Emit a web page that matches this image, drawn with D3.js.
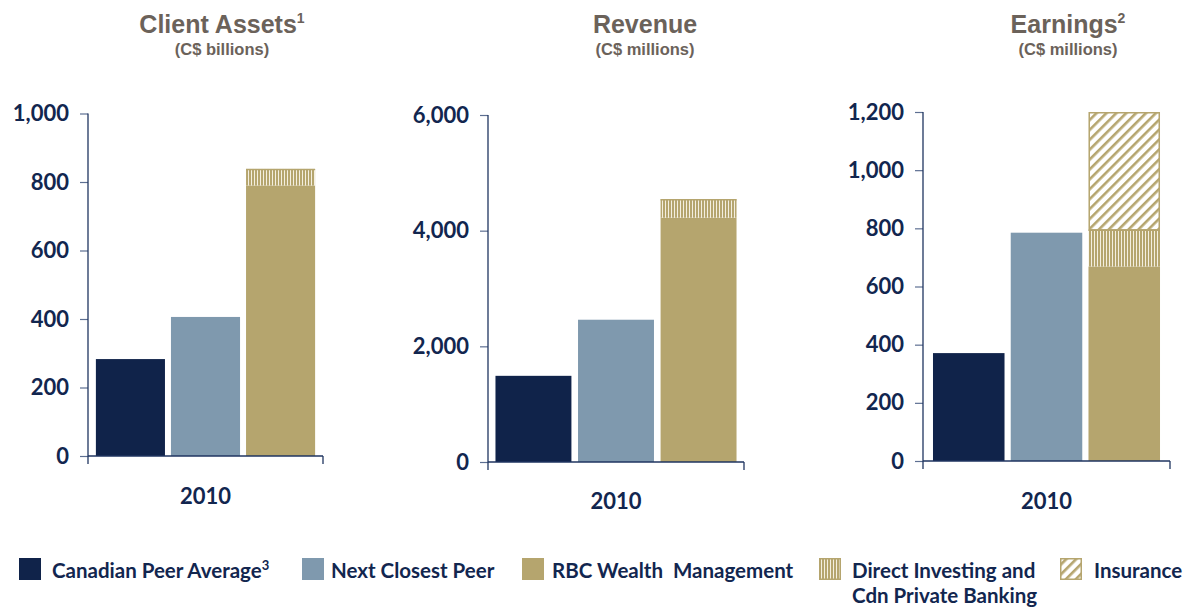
<!DOCTYPE html>
<html><head><meta charset="utf-8">
<script src="https://cdn.jsdelivr.net/npm/d3@7"></script>
<style>body{margin:0;background:#fff}svg{display:block}</style>
</head><body>
<svg id="c" width="1187" height="607"></svg>
<script>
// ---- data ----
const categories = ["2010"];
const series = ["Canadian Peer Average", "Next Closest Peer", "RBC Wealth Management"];
const panelTitles = ["Client Assets", "Revenue", "Earnings"];
const panelNotes = ["1", "", "2"];
const panelUnits = ["(C$ billions)", "(C$ millions)", "(C$ millions)"];
const clientAssets = [283, 406, 790];
const revenue = [1490, 2460, 4225];
const earnings = [371, 785, 669];
const directInvesting = [48, 320, 126];   // RBC add-on per panel
const insurance = [0, 0, 405];            // RBC add-on per panel
const clientTicks = [0, 200, 400, 600, 800, 1000];
const revenueTicks = [0, 2000, 4000, 6000];
const earningsTicks = [0, 200, 400, 600, 800, 1000, 1200];
const legendLabels = ["Canadian Peer Average", "Next Closest Peer", "RBC Wealth  Management", "Direct Investing and", "Insurance"];

// ---- styles / layout ----
const colors = ["#10234a", "#7f99ae", "#b5a56e"];
const tan = "#b5a56e";
const navyText = "#12264f";
const axisColor = "#1f3560";
const titleColor = "#6b625a";
const numFont = "Lato, 'Open Sans', sans-serif";

const svg = d3.select("#c");
const defs = svg.append("defs");
const pv = defs.append("pattern").attr("id","vstripe").attr("patternUnits","userSpaceOnUse").attr("width",3).attr("height",10);
pv.append("rect").attr("width",3).attr("height",10).attr("fill",tan);
pv.append("rect").attr("x",2).attr("width",1).attr("height",10).attr("fill","#f4efe0");
const pd = defs.append("pattern").attr("id","dstripe").attr("patternUnits","userSpaceOnUse").attr("width",7).attr("height",7).attr("patternTransform","rotate(45)");
pd.append("rect").attr("width",7).attr("height",7).attr("fill","#fff");
pd.append("rect").attr("width",2.6).attr("height",7).attr("fill",tan);

const panels = [
  {vals: clientAssets, ticks: clientTicks, ax: 88, x1: 323, top: 113.5, zero: 456, po: 0.036, titleX: 222, xPad: 32},
  {vals: revenue, ticks: revenueTicks, ax: 488, x1: 744, top: 115, zero: 462, po: 0.031, titleX: 645, xPad: 31},
  {vals: earnings, ticks: earningsTicks, ax: 923, x1: 1170, top: 112, zero: 461, po: 0.044, titleX: 1068, xPad: 32}
];

panels.forEach((p, i) => {
  const g = svg.append("g");
  const y = d3.scaleLinear().domain([0, d3.max(p.ticks)]).range([p.zero, p.top]);
  const x0 = d3.scaleBand().domain(categories).range([p.ax, p.x1]).paddingOuter(p.po).paddingInner(0);
  const x1 = d3.scaleBand().domain(series).range([0, x0.bandwidth()]).paddingInner(0.08);

  // title
  const t = g.append("text").attr("x", p.titleX).attr("y", 33).attr("text-anchor","middle")
    .attr("font-family","'Liberation Sans', Arial, sans-serif").attr("font-weight","bold")
    .attr("font-size",25).attr("fill",titleColor);
  t.append("tspan").text(panelTitles[i]);
  if (panelNotes[i]) t.append("tspan").attr("font-size",14).attr("dy",-10).text(panelNotes[i]);
  g.append("text").attr("x", p.titleX).attr("y", 55).attr("text-anchor","middle")
    .attr("font-family","'Liberation Sans', Arial, sans-serif").attr("font-weight","bold")
    .attr("font-size",16.5).attr("fill",titleColor).text(panelUnits[i]);

  // bars
  categories.forEach(cat => {
    series.forEach((s, j) => {
      const v = p.vals[j];
      g.append("rect").attr("x", x0(cat) + x1(s)).attr("width", x1.bandwidth())
        .attr("y", y(v)).attr("height", y(0) - y(v)).attr("fill", colors[j]);
    });
    const s = series[2];
    const base = p.vals[2];
    const di = directInvesting[i];
    const ins = insurance[i];
    const bx = x0(cat) + x1(s), bw = x1.bandwidth();
    if (di > 0) {
      g.append("rect").attr("x", bx).attr("width", bw).attr("y", y(base + di)).attr("height", y(base) - y(base + di))
        .attr("fill","url(#vstripe)");
      g.append("line").attr("x1",bx).attr("x2",bx+bw).attr("y1",y(base+di)+0.5).attr("y2",y(base+di)+0.5)
        .attr("stroke",tan).attr("stroke-width",1.5);
    }
    if (ins > 0) {
      g.append("rect").attr("x", bx+0.75).attr("width", bw-1.5).attr("y", y(base + di + ins)+0.75)
        .attr("height", y(base + di) - y(base + di + ins)-0.75)
        .attr("fill","url(#dstripe)").attr("stroke",tan).attr("stroke-width",1.5);
    }
  });

  // y axis
  const yAxis = d3.axisLeft(y).tickValues(p.ticks).tickSize(8).tickPadding(11).tickFormat(d3.format(","));
  const ya = g.append("g").attr("transform",`translate(${p.ax},0)`).call(yAxis);
  ya.select(".domain").remove();
  ya.selectAll(".tick line").attr("stroke","#5d6f92").attr("stroke-width",1.2);
  ya.selectAll(".tick text").attr("font-family",numFont).attr("font-weight","bold").attr("font-size",22).attr("fill",navyText);
  g.append("line").attr("x1",p.ax).attr("x2",p.ax).attr("y1",p.top).attr("y2",p.zero+8).attr("stroke",axisColor).attr("stroke-width",1.3);

  // x axis
  const xAxis = d3.axisBottom(x0).tickSize(0).tickPadding(p.xPad);
  const xa = g.append("g").attr("transform",`translate(0,${p.zero})`).call(xAxis);
  xa.select(".domain").remove();
  xa.selectAll(".tick text").attr("font-family",numFont).attr("font-weight","bold").attr("font-size",22).attr("fill",navyText);
  g.append("line").attr("x1",p.ax).attr("x2",p.x1).attr("y1",p.zero).attr("y2",p.zero).attr("stroke",axisColor).attr("stroke-width",1.3);
  g.append("line").attr("x1",p.x1).attr("x2",p.x1).attr("y1",p.zero).attr("y2",p.zero+8).attr("stroke",axisColor).attr("stroke-width",1.3);
});

// legend
const legendX = [19, 302, 522, 819, 1060];
const legendTextX = [52, 331, 552, 852, 1094];
const legendFills = [colors[0], colors[1], colors[2], "url(#vstripe)", "url(#dstripe)"];
const lg = svg.append("g");
legendLabels.forEach((lab, k) => {
  const sq = lg.append("rect").attr("x", legendX[k]).attr("y", 558).attr("width", 22).attr("height", 22).attr("fill", legendFills[k]);
  if (k >= 3) sq.attr("x", legendX[k]+0.75).attr("y",558.75).attr("width",20.5).attr("height",20.5).attr("stroke",tan).attr("stroke-width",1.5);
  const tx = lg.append("text").attr("x", legendTextX[k]).attr("y", 578).attr("xml:space","preserve").style("white-space","pre")
    .attr("font-family",numFont).attr("font-weight","bold").attr("font-size",20.5).attr("fill",navyText);
  tx.append("tspan").text(lab);
  if (k === 0) tx.append("tspan").attr("font-size",13).attr("dy",-8).text("3");
  if (k === 3) lg.append("text").attr("x", legendTextX[k]).attr("y", 603)
    .attr("font-family",numFont).attr("font-weight","bold").attr("font-size",20.5).attr("fill",navyText).text("Cdn Private Banking");
});
</script>
</body></html>
